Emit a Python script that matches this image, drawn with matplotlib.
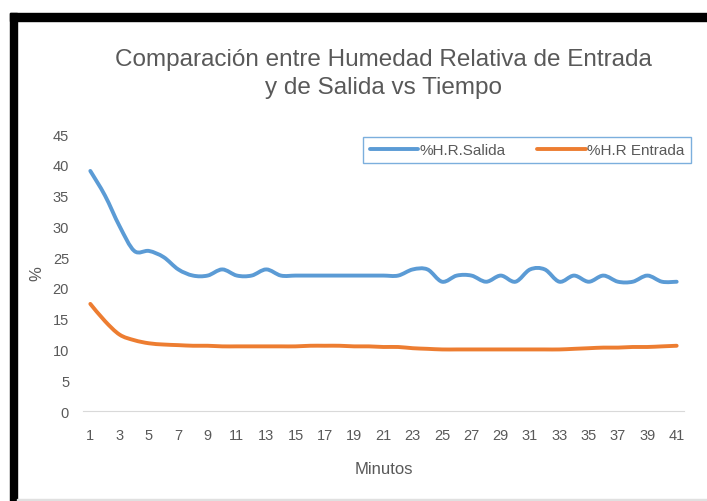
import matplotlib.pyplot as plt
from matplotlib.path import Path
from matplotlib.patches import PathPatch, Rectangle
from matplotlib.lines import Line2D

plt.rcParams["font.family"] = ["Liberation Sans", "DejaVu Sans"]

# ─── DATA ────────────────────────────────────────────────────────────────
minutos = list(range(1, 42))
hr_salida = [39, 35, 30, 26, 26, 25, 23, 22, 22, 23,
             22, 22, 23, 22, 22, 22, 22, 22, 22, 22,
             22, 22, 23, 23, 21, 22, 22, 21, 22, 21,
             23, 23, 21, 22, 21, 22, 21, 21, 22, 21, 21]
hr_entrada = [17.4, 14.6, 12.4, 11.5, 11.0, 10.8, 10.7, 10.6, 10.6, 10.5,
              10.5, 10.5, 10.5, 10.5, 10.5, 10.6, 10.6, 10.6, 10.5, 10.5,
              10.4, 10.4, 10.2, 10.1, 10.0, 10.0, 10.0, 10.0, 10.0, 10.0,
              10.0, 10.0, 10.0, 10.1, 10.2, 10.3, 10.3, 10.4, 10.4, 10.5, 10.6]
y_ticks = [0, 5, 10, 15, 20, 25, 30, 35, 40, 45]
x_ticks = list(range(1, 42, 2))

BLUE = "#5B9BD5"
ORANGE = "#ED7D31"
GRAY_TXT = "#595959"


def smooth_path(xs, ys):
    # Excel-like smoothed line: cubic Bezier segments, Catmull-Rom style controls
    pts = list(zip(xs, ys))
    n = len(pts)
    verts = [pts[0]]
    codes = [Path.MOVETO]
    for i in range(n - 1):
        p0 = pts[i - 1] if i > 0 else pts[i]
        p1 = pts[i]
        p2 = pts[i + 1]
        p3 = pts[i + 2] if i + 2 < n else pts[i + 1]
        c1 = (p1[0] + (p2[0] - p0[0]) / 6, p1[1] + (p2[1] - p0[1]) / 6)
        c2 = (p2[0] - (p3[0] - p1[0]) / 6, p2[1] - (p3[1] - p1[1]) / 6)
        verts += [c1, c2, p2]
        codes += [Path.CURVE4] * 3
    return Path(verts, codes)


fig = plt.figure(figsize=(7.07, 5.02), dpi=100)
ax = fig.add_axes([83 / 707, 1 - 412 / 502, 601 / 707, 277 / 502])

for ys, col in [(hr_salida, BLUE), (hr_entrada, ORANGE)]:
    ax.add_patch(PathPatch(smooth_path(minutos, ys), fill=False, edgecolor=col,
                           lw=2.8, capstyle="round", joinstyle="round", zorder=3))

ax.set_xlim(0.5, 41.5)
ax.set_ylim(0, 45)
ax.set_xticks(x_ticks)
ax.set_yticks(y_ticks)
ax.tick_params(length=0, labelsize=10.5, colors=GRAY_TXT, pad=12)
ax.tick_params(axis="y", pad=10)
for s in ["top", "right", "left"]:
    ax.spines[s].set_visible(False)
ax.spines["bottom"].set_color("#D9D9D9")

ax.set_xlabel("Minutos", fontsize=12, color=GRAY_TXT, labelpad=14)
ax.set_ylabel("%", fontsize=12, color=GRAY_TXT, labelpad=6)

fig.text(383 / 707, 1 - 74 / 502,
         "Comparación entre Humedad Relativa de Entrada\ny de Salida vs Tiempo",
         ha="center", va="center", fontsize=17.5, color=GRAY_TXT, linespacing=1.38)

handles = [Line2D([0], [0], color=BLUE, lw=2.8, solid_capstyle="round"),
           Line2D([0], [0], color=ORANGE, lw=2.8, solid_capstyle="round")]
leg = fig.legend(handles, ["%H.R.Salida", "%H.R Entrada"], ncol=2,
                 loc="center", bbox_to_anchor=(527 / 707, 1 - 151 / 502),
                 fontsize=11, frameon=True, fancybox=False, handlelength=3.2,
                 handletextpad=0.1, columnspacing=2.0, borderpad=0.4)
leg.get_frame().set_edgecolor(BLUE)
leg.get_frame().set_linewidth(1.0)
for t in leg.get_texts():
    t.set_color(GRAY_TXT)

# black frame from the screenshot
W, H = 707, 502
fig.patches.append(Rectangle((10 / W, 1 - 22 / H), 1, 8 / H, transform=fig.transFigure,
                             color="black", zorder=10))
fig.patches.append(Rectangle((10 / W, 0), 7 / W, 1 - 14 / H, transform=fig.transFigure,
                             color="black", zorder=10))
fig.patches.append(Rectangle((17 / W, 0), 1, 2 / H, transform=fig.transFigure,
                             color="#E0E0E0", zorder=10))

fig.savefig("out.png", dpi=100)
